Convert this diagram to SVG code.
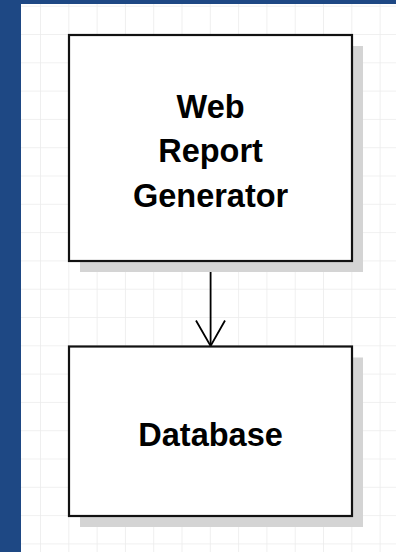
<svg xmlns="http://www.w3.org/2000/svg" width="396" height="552" viewBox="0 0 396 552">
  <defs>
    <pattern id="grid" patternUnits="userSpaceOnUse" x="12.7" y="6.7" width="28.3" height="28.3">
      <path d="M28.3 0V28.3M0 28.3H28.3" fill="none" stroke="#ebebeb" stroke-width="1.5"/>
    </pattern>
  </defs>
  <style>
    .shadow { fill: #d4d4d4; }
    .box { fill: #ffffff; stroke: #111111; stroke-width: 2.2; }
    .label { font-family: "Liberation Sans", Arial, sans-serif; font-weight: bold; font-size: 32.5px; fill: #000000; text-anchor: middle; }
    .conn { fill: none; stroke: #000000; stroke-width: 1.8; }
  </style>

  <!-- canvas -->
  <rect width="396" height="552" fill="#ffffff"/>
  <rect width="396" height="552" fill="url(#grid)"/>
  <rect x="0" y="0" width="396" height="4" fill="#1e4884"/>
  <rect x="0" y="0" width="21" height="552" fill="#1e4884"/>

  <!-- connectors -->
  <g id="connectors">
    <path class="conn" d="M210.6 261V346"/>
    <path class="conn" d="M196 320.5L210.6 346L225 320.5"/>
  </g>

  <!-- Web Report Generator -->
  <g id="web-report-generator">
    <rect class="shadow" x="80" y="46" width="283" height="226"/>
    <rect class="box" x="69" y="35" width="283" height="226"/>
    <text class="label" x="210.6" y="117.5">Web</text>
    <text class="label" x="210.6" y="162">Report</text>
    <text class="label" x="210.6" y="206.5">Generator</text>
  </g>

  <!-- Database -->
  <g id="database">
    <rect class="shadow" x="80" y="357.5" width="283" height="169.5"/>
    <rect class="box" x="69" y="346.5" width="283" height="169.5"/>
    <text class="label" x="210.6" y="445.5">Database</text>
  </g>
</svg>
